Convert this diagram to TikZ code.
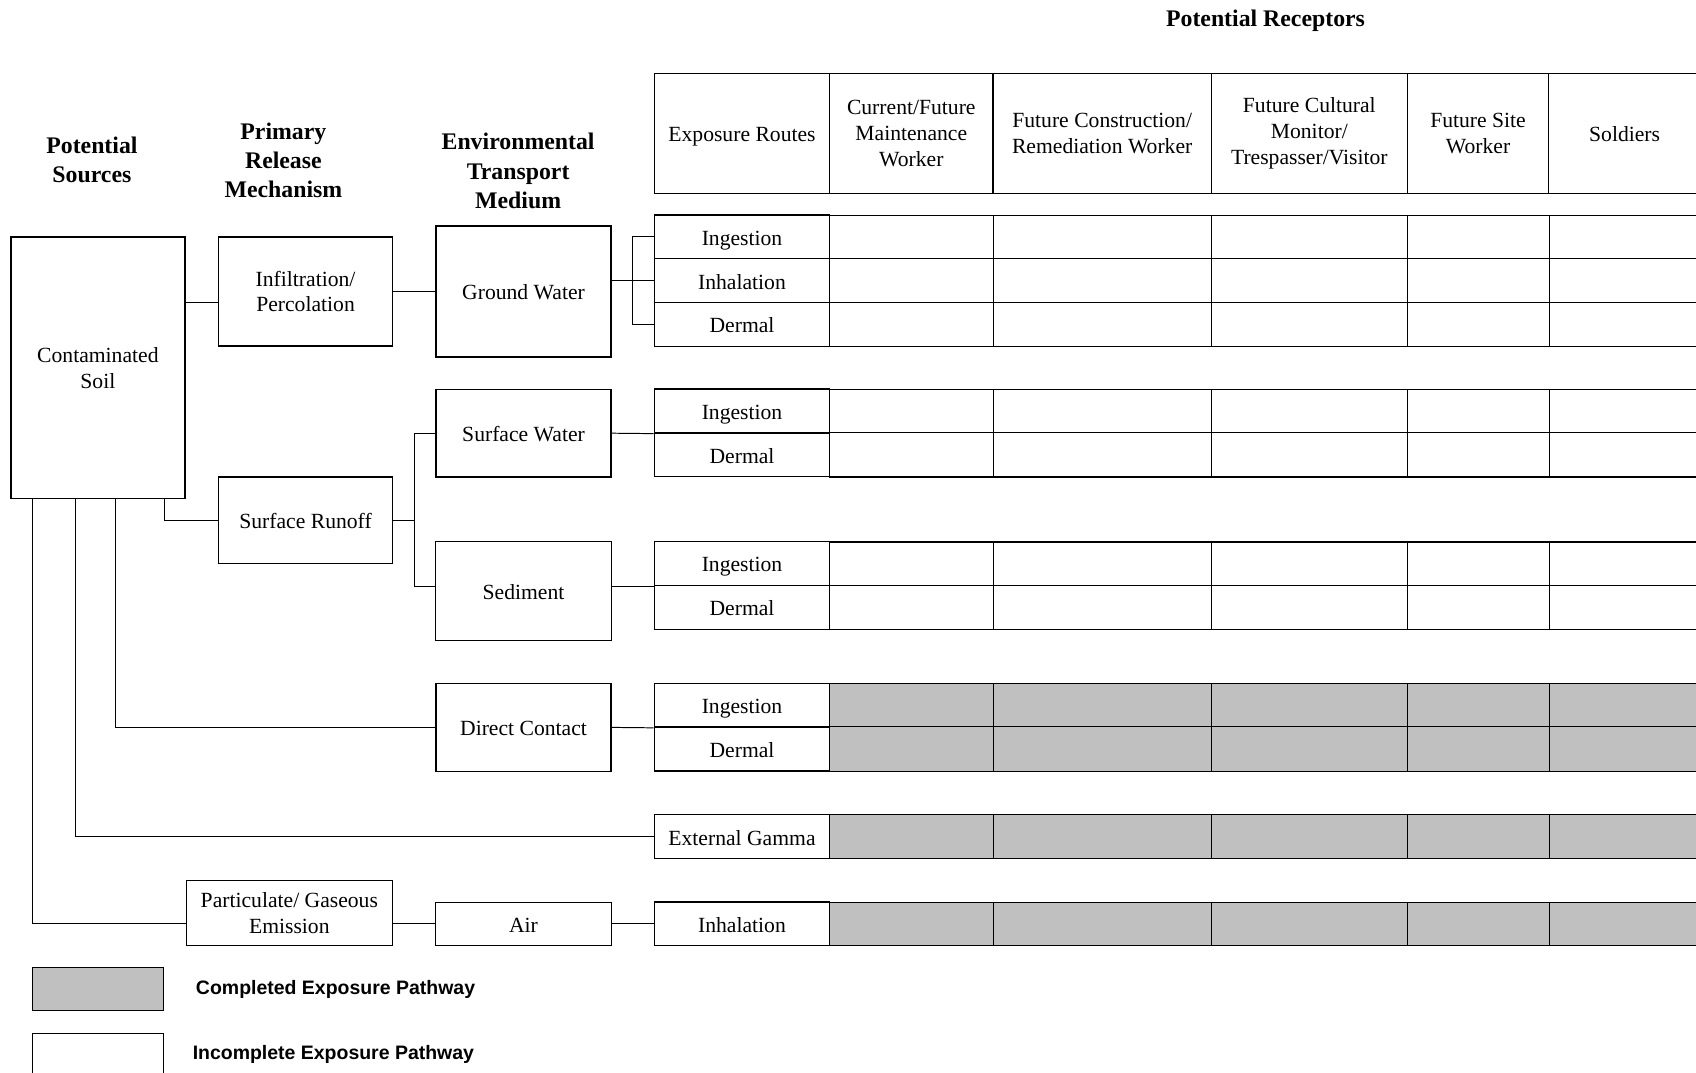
\documentclass[tikz,border=0pt]{standalone}
\usepackage{fontspec}
\setmainfont{Liberation Serif}
\newfontfamily\legendfont{Liberation Sans}
\definecolor{shade}{HTML}{C0C0C0}
\begin{document}
\begin{tikzpicture}[x=1pt,y=-1pt,
  txt/.style={font=\fontsize{20}{24}\selectfont, align=center},
  hd/.style={font=\fontsize{22}{27}\selectfont\bfseries, align=center},
  box/.style={draw, line width=1.3pt, inner sep=0pt, txt},
  one/.style={text height=16.5pt, text depth=1pt},
  thinbox/.style={box, line width=0.8pt},
  route/.style={box, one, fill=white, minimum width=162pt, minimum height=40.5pt},
  hcell/.style={box, minimum height=111pt},
  conn/.style={line width=0.9pt},
  cellline/.style={line width=0.7pt},
  legtext/.style={font=\legendfont\bfseries\fontsize{18}{21}\selectfont, anchor=west, inner sep=0pt}]
\useasboundingbox (0,0) rectangle (1568,992);
\clip (0,0) rectangle (1568,992);

% headings
\node[hd] (hsrc) at (85,148) {Potential\\Sources};
\node[hd] (hrel) at (262,148) {Primary\\Release\\Mechanism};
\node[hd] (henv) at (479,158) {Environmental\\Transport\\Medium};
\node[hd, text height=17pt, text depth=2.5pt] (hrec) at (1170,17) {Potential Receptors};

% source, release, medium boxes
\node[box, minimum width=161pt, minimum height=242pt] (soil) at (90.5,340) {Contaminated\\Soil};
\node[box, minimum width=161pt, minimum height=101pt] (infil) at (282.5,269.5) {Infiltration/\\Percolation};
\node[box, one, minimum width=161pt, minimum height=80pt] (runoff) at (282.5,481) {Surface Runoff};
\node[thinbox, minimum width=191pt, minimum height=60pt] (part) at (267.5,844) {Particulate/ Gaseous\\Emission};
\node[box, one, minimum width=162pt, minimum height=121pt] (gw) at (484,269.5) {Ground Water};
\node[box, one, minimum width=162pt, minimum height=81pt] (sw) at (484,400.5) {Surface Water};
\node[thinbox, one, minimum width=162pt, minimum height=91pt] (sed) at (484,546.5) {Sediment};
\node[box, one, minimum width=162pt, minimum height=81pt] (dc) at (484,672.5) {Direct Contact};
\node[thinbox, one, minimum width=162pt, minimum height=40pt] (air) at (484,854) {Air};

% receptor grid
\foreach \ya/\yb/\f in {199/239/white,239/280/white,280/320/white,360/400/white,400/441/white,501/541/white,541/582/white,632/672/shade,672/713/shade,753/794/shade,834/874/shade}
  \foreach \xa/\xb in {767/918,918/1120,1120/1301,1301/1432,1432/1572}
    \draw[cellline, fill=\f] (\xa,\ya) rectangle (\xb,\yb);
\foreach \ya in {199,239,280,320,360,400,441,501,541,582,632,672,713,753,794,834,874}
  \draw[line width=1pt] (767,\ya) -- (1572,\ya);

% header row
\node[hcell, one, minimum width=162pt] (hER) at (686,123.5) {Exposure Routes};
\node[hcell, minimum width=151pt] (hC1) at (842.5,123.5) {Current/Future\\Maintenance\\Worker};
\node[hcell, minimum width=202pt] (hC2) at (1019,123.5) {Future Construction/\\Remediation Worker};
\node[hcell, minimum width=181pt] (hC3) at (1210.5,123.5) {Future Cultural\\Monitor/\\Trespasser/Visitor};
\node[hcell, minimum width=131pt, line width=1pt] (hC4) at (1366.5,123.5) {Future Site\\Worker};
\node[hcell, one, minimum width=140pt, line width=1pt] (hC5) at (1502,123.5) {Soldiers};

% exposure route cells
\node[route] (gwI) at (686,219) {Ingestion};
\node[route] (gwH) at (686,259.5) {Inhalation};
\node[route] (gwD) at (686,300) {Dermal};
\node[route] (swI) at (686,380) {Ingestion};
\node[route] (swD) at (686,420.5) {Dermal};
\node[route] (sedI) at (686,521) {Ingestion};
\node[route] (sedD) at (686,561.5) {Dermal};
\node[route] (dcI) at (686,652) {Ingestion};
\node[route] (dcD) at (686,692.5) {Dermal};
\node[route] (eg) at (686,773.5) {External Gamma};
\node[route] (airI) at (686,854) {Inhalation};

% connector helper coordinates
\coordinate (j1) at (0,280);
\coordinate (bx) at (585,0);
\coordinate (c1) at (152,0);
\coordinate (c2) at (107,0);
\coordinate (c3) at (70,0);
\coordinate (c4) at (30,0);
\coordinate (sx) at (383,0);

% connectors
\draw[conn] (soil.east |- j1) -- (infil.west |- j1);
\draw[conn] (infil.east) -- (gw.west);
\draw[conn] (gw.east |- gwH.west) -- (gwH.west);
\draw[conn, line width=0.7pt] (gwI.west) -| (bx |- gwD.west) -- (gwD.west);
\draw[conn] (c1 |- soil.south) |- (runoff.west);
\draw[conn] (runoff.east) -- (sx |- runoff.east);
\draw[conn] (sw.west) -| (sx |- sedI.south) -- (sed.west |- sedI.south);
\draw[conn] (sw.east) -- (swI.south west);
\draw[conn, line width=0.7pt] (sed.east |- sedI.south) -- (sedI.south west);
\draw[conn] (c2 |- soil.south) |- (dc.west);
\draw[conn] (dc.east) -- (dcI.south west);
\draw[conn] (c3 |- soil.south) |- (eg.west);
\draw[conn, line width=0.7pt] (c4 |- soil.south) |- (part.west |- air.west);
\draw[conn, line width=0.7pt] (part.east |- air.west) -- (air.west);
\draw[conn, line width=0.7pt] (air.east) -- (airI.west);

% legend
\node[box, line width=0.8pt, fill=shade, minimum width=121pt, minimum height=39.5pt] (leg1) at (90.5,914.5) {};
\node[legtext] (leg1t) at (181,914.5) {Completed Exposure Pathway};
\node[box, line width=0.8pt, minimum width=121pt, minimum height=40pt] (leg2) at (90.5,975) {};
\node[legtext] (leg2t) at (178,975) {Incomplete Exposure Pathway};
\end{tikzpicture}
\end{document}
